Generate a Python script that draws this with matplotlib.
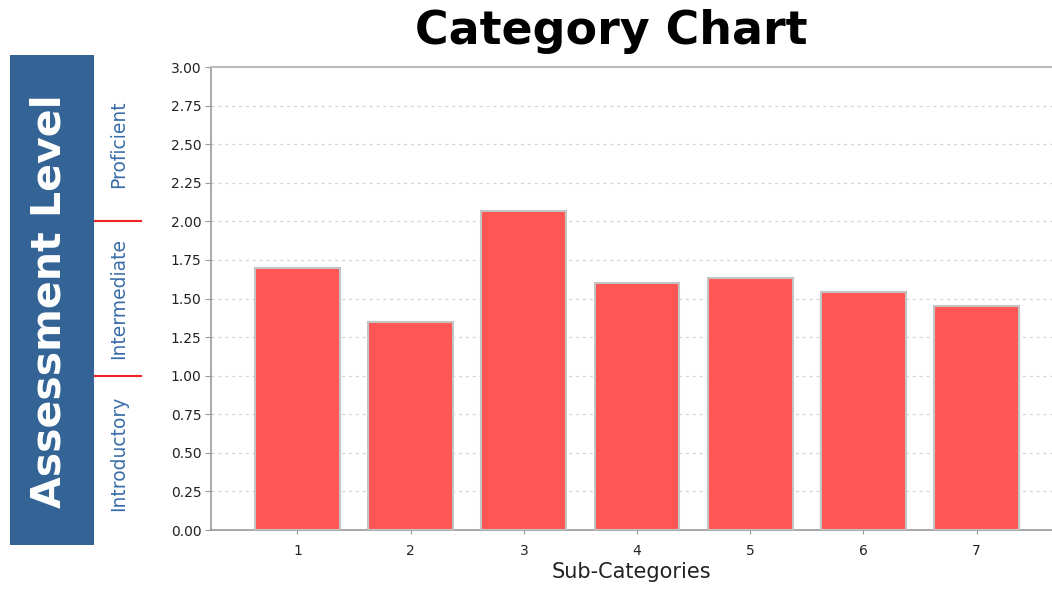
import matplotlib
matplotlib.use("Agg")
import matplotlib.pyplot as plt
from matplotlib.patches import Rectangle
from matplotlib.transforms import blended_transform_factory
import numpy as np

categories = ["1", "2", "3", "4", "5", "6", "7"]
values = [1.70, 1.35, 2.07, 1.60, 1.635, 1.54, 1.45]
y_ticks = [0.00, 0.25, 0.50, 0.75, 1.00, 1.25, 1.50, 1.75, 2.00, 2.25, 2.50, 2.75, 3.00]
level_names = ["Introductory", "Intermediate", "Proficient"]
level_bounds = [0.0, 1.0, 2.0, 3.0]

title = "Category Chart"
x_label = "Sub-Categories"
side_label = "Assessment Level"

W, H = 1052, 589
fig = plt.figure(figsize=(W / 100, H / 100), dpi=100)
fig.patch.set_facecolor("white")

ax = fig.add_axes([211 / W, 1 - 530 / H, (W - 211) / W, (530 - 67) / H])
x = np.arange(1, len(categories) + 1)
ax.bar(x, values, width=0.75, color="#FF5555", edgecolor="#C4C4C4", linewidth=1.5, zorder=3)
ax.set_xlim(0.236, 7.667)
ax.set_ylim(0, 3.0)
ax.set_xticks(x)
ax.set_xticklabels(categories)
ax.set_yticks(y_ticks)
ax.set_yticklabels([f"{v:.2f}" for v in y_ticks])
ax.yaxis.grid(True, color="#D4D4D4", linestyle=(0, (2.5, 3)), linewidth=0.9, zorder=0)
ax.set_axisbelow(True)
ax.spines["right"].set_visible(False)
ax.spines["top"].set_color("#BBBBBB")
ax.spines["top"].set_linewidth(1.5)
ax.spines["left"].set_color("#999999")
ax.spines["left"].set_linewidth(1.2)
ax.spines["bottom"].set_color("#999999")
ax.spines["bottom"].set_linewidth(1.2)
ax.tick_params(axis="y", length=4, color="#999999", labelsize=10, labelcolor="#222222", pad=3)
ax.tick_params(axis="x", length=3, color="#999999", labelsize=10, labelcolor="#222222", pad=7)
ax.set_xlabel(x_label, fontsize=15, color="#222222", labelpad=3)

fig.text(611 / W, 1 - 31 / H, title, ha="center", va="center", fontsize=33, fontweight="bold", color="black")

# side panel
fig.patches.append(Rectangle((10 / W, 1 - 545 / H), 84 / W, 490 / H, transform=fig.transFigure,
                             facecolor="#346496", edgecolor="none"))
fig.text(50 / W, 1 - 301 / H, side_label, rotation=90, ha="center", va="center",
         fontsize=29.5, fontweight="heavy", color="white")

tr = blended_transform_factory(fig.transFigure, ax.transData)
for b in level_bounds[1:-1]:
    ax.plot([94 / W, 141 / W], [b, b], color="#EE2222", linewidth=1.5, transform=tr, clip_on=False)
for i, name in enumerate(level_names):
    mid = (level_bounds[i] + level_bounds[i + 1]) / 2
    ax.text(119 / W, mid, name, rotation=90, ha="center", va="center", transform=tr,
            fontsize=13.5, color="#3A6EA8")

fig.savefig("out.png", dpi=100)
